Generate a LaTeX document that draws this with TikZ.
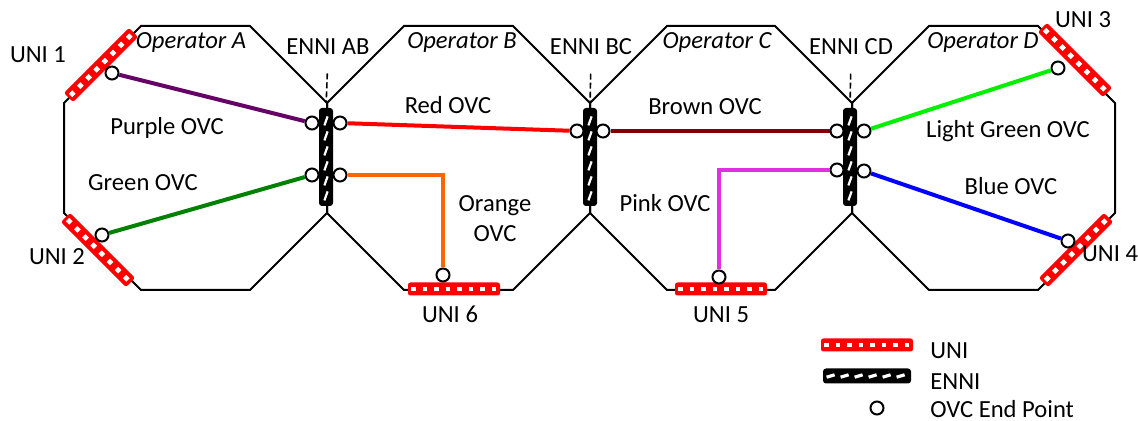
\documentclass[tikz,border=0pt]{standalone}
\usepackage{fontspec}
\setmainfont{Carlito}
\usepackage{tikz}
\usepackage{xcolor}
\definecolor{unired}{RGB}{255,0,0}
\definecolor{ovcpurple}{RGB}{102,0,102}
\definecolor{ovcgreen}{RGB}{0,128,0}
\definecolor{ovcred}{RGB}{255,0,0}
\definecolor{ovcorange}{RGB}{255,102,0}
\definecolor{ovcbrown}{RGB}{128,0,0}
\definecolor{ovcpink}{RGB}{224,48,224}
\definecolor{ovclight}{RGB}{0,240,0}
\definecolor{ovcblue}{RGB}{0,0,255}

\begin{document}
\begin{tikzpicture}[x=0.5pt,y=-0.5pt,font=\fontsize{12.3}{14}\selectfont]
  \tikzset{operator/.style={draw=black,line width=1pt,line join=miter}}
  \tikzset{unibox/.style={rectangle,rounded corners=1.2pt,fill=unired,minimum width=46pt,minimum height=6.5pt,inner sep=0pt}}
  \tikzset{unidash/.style={draw=white,line width=2.4pt,dash pattern=on 2.4pt off 3.35pt,shorten <=1.7pt,shorten >=1.7pt}}
  \tikzset{ennibox/.style={rectangle,rounded corners=1.5pt,fill=black,minimum width=7pt,minimum height=49pt,inner sep=0pt}}
  \tikzset{ennidash/.style={draw=white,line width=1.1pt}}
  \tikzset{ovcend/.style={circle,draw=black,fill=white,line width=1pt,minimum size=6.5pt,inner sep=0pt}}
  \tikzset{ovcline/.style={line width=2pt}}
  \tikzset{pointer/.style={draw=black,line width=0.8pt,dash pattern=on 3pt off 1.5pt}}
  \tikzset{txt/.style={anchor=base,inner sep=0pt}}
  \useasboundingbox (0,0) rectangle (1138,421);
  % operator domains
  \draw[operator] (141,26) -- (250,26) -- (327,103) -- (327,213) -- (250,290) -- (141,290) -- (64,213) -- (64,103) -- cycle;
  \draw[operator] (404,26) -- (513,26) -- (590,103) -- (590,213) -- (513,290) -- (404,290) -- (327,213) -- (327,103) -- cycle;
  \draw[operator] (667,26) -- (775,26) -- (852,103) -- (852,213) -- (775,290) -- (667,290) -- (590,213) -- (590,103) -- cycle;
  \draw[operator] (929,26) -- (1038,26) -- (1115,103) -- (1115,213) -- (1038,290) -- (929,290) -- (852,213) -- (852,103) -- cycle;
  % UNIs
  \node[unibox,rotate=45] (uni1) at (101,65) {};
  \node[unibox,rotate=-45] (uni2) at (98,250) {};
  \node[unibox,rotate=-45] (uni3) at (1075,60) {};
  \node[unibox,rotate=45] (uni4) at (1076,250) {};
  \node[unibox] (uni5) at (721,289) {};
  \node[unibox] (uni6) at (454,289) {};
  \node[unibox] (leguni) at (867,345) {};
  \foreach \u in {uni1,uni2,uni3,uni4,uni5,uni6,leguni}
    \draw[unidash] (\u.west) -- (\u.east);
  % ENNIs
  \node[ennibox] (enniAB) at (326,157) {};
  \node[ennibox] (enniBC) at (590,157) {};
  \node[ennibox] (enniCD) at (850,157) {};
  \node[ennibox,minimum width=44pt,minimum height=7.5pt] (legenni) at (867,376) {};
  \foreach \e in {enniAB,enniBC,enniCD}
    \foreach \k in {0,...,5}
      \draw[ennidash] ([xshift=-0.8pt,yshift={3pt+\k*7.5pt}]\e.south) -- ++(1.6pt,4.5pt);
  \foreach \k in {0,...,5}
    \draw[ennidash,line width=1.6pt] ([xshift={2pt+\k*7pt},yshift=-0.6pt]legenni.west) -- ++(4pt,1.2pt);
  % OVC end points
  \node[ovcend] (ep1) at (112,73) {};
  \node[ovcend] (ep2) at (102,235) {};
  \node[ovcend] (ep3) at (1058,68) {};
  \node[ovcend] (ep4) at (1068,241) {};
  \node[ovcend] (ep5) at (719,277) {};
  \node[ovcend] (ep6) at (443,275) {};
  \node[ovcend] (abUL) at (312,123) {};
  \node[ovcend] (abUR) at (340,123) {};
  \node[ovcend] (abLL) at (312,175) {};
  \node[ovcend] (abLR) at (340,175) {};
  \node[ovcend] (bcL) at (577,131) {};
  \node[ovcend] (bcR) at (603,131) {};
  \node[ovcend] (cdUL) at (837,131) {};
  \node[ovcend] (cdUR) at (864,131) {};
  \node[ovcend] (cdLL) at (837,170) {};
  \node[ovcend] (cdLR) at (864,171) {};
  \node[ovcend] (legep) at (877,408) {};
  % OVCs
  \draw[ovcline,draw=ovcpurple] (ep1) -- (abUL);
  \draw[ovcline,draw=ovcgreen] (ep2) -- (abLL);
  \draw[ovcline,draw=ovcred] (abUR) -- (bcL);
  \draw[ovcline,draw=ovcorange] (abLR) -| (ep6);
  \draw[ovcline,draw=ovcbrown] (bcR) -- (cdUL);
  \draw[ovcline,draw=ovcpink] (cdLL) -| (ep5);
  \draw[ovcline,draw=ovclight] (cdUR) -- (ep3);
  \draw[ovcline,draw=ovcblue] (cdLR) -- (ep4);
  % texts
  \node[txt] (tOpA) at (191,49) {\itshape Operator A};
  \node[txt] (tOpB) at (462,49) {\itshape Operator B};
  \node[txt] (tOpC) at (717,49) {\itshape Operator C};
  \node[txt] (tOpD) at (983,49) {\itshape Operator D};
  \node[txt] (tAB) at (328,55) {ENNI AB};
  \node[txt] (tBC) at (591,55) {ENNI BC};
  \node[txt] (tCD) at (851,55) {ENNI CD};
  \draw[pointer,shorten <=9pt,shorten >=3pt] (tAB.south) -- (enniAB.north);
  \draw[pointer,shorten <=9pt,shorten >=3pt] (tBC.south) -- (enniBC.north);
  \draw[pointer,shorten <=9pt,shorten >=3pt] (tCD.south) -- (enniCD.north);
  \node[txt] (tUni1) at (38,63) {UNI 1};
  \node[txt] (tUni2) at (57,265) {UNI 2};
  \node[txt] (tUni3) at (1083,28) {UNI 3};
  \node[txt] (tUni4) at (1110,262) {UNI 4};
  \node[txt] (tUni5) at (721,323) {UNI 5};
  \node[txt] (tUni6) at (450,323) {UNI 6};
  \node[txt] (tPurple) at (167,135) {Purple OVC};
  \node[txt] (tGreen) at (143,191) {Green OVC};
  \node[txt] (tRed) at (448,114) {Red OVC};
  \node[txt] (tOrange) at (495,212) {Orange};
  \node[txt] (tOrangeOVC) at (495,242) {OVC};
  \node[txt] (tBrown) at (705,115) {Brown OVC};
  \node[txt] (tPink) at (665,212) {Pink OVC};
  \node[txt] (tLight) at (1008,138) {Light Green OVC};
  \node[txt] (tBlue) at (1011,195) {Blue OVC};
  % legend
  \node[txt,anchor=base west] (tLegUni) at (930,358) {UNI};
  \node[txt,anchor=base west] (tLegEnni) at (930,389) {ENNI};
  \node[txt,anchor=base west] (tLegEp) at (930,417) {OVC End Point};
\end{tikzpicture}
\end{document}
